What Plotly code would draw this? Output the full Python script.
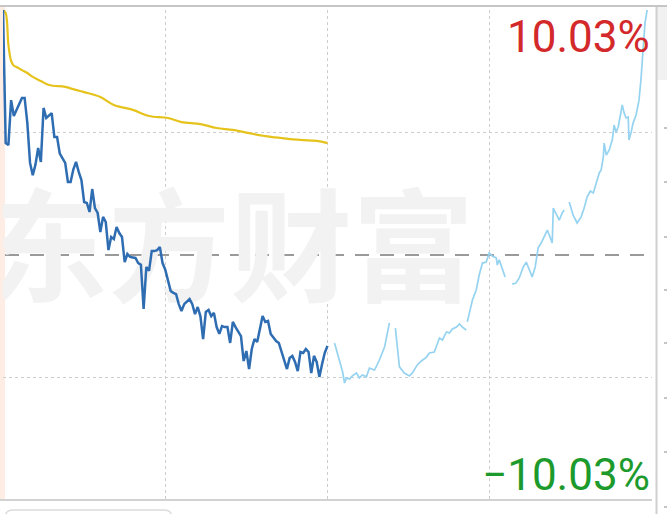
import plotly.graph_objects as go

# ---- data (minutes since 9:30 open, % change vs previous close) ----
price_min = list(range(0, 121))
price_pct = [10.03, 4.58, 4.50, 6.34, 5.69, 5.95, 6.20, 6.43, 6.43, 5.40,
             3.77, 3.27, 3.70, 4.38, 3.81, 6.02, 5.61, 5.70, 5.81, 4.83,
             4.83, 4.15, 3.95, 3.77, 2.99, 2.99, 3.50, 3.81, 3.40, 3.07,
             2.17, 2.13, 1.76, 2.70, 1.92, 1.72, 0.94, 1.56, 1.35, 0.20,
             0.74, 0.65, 1.15, 0.90, 0.74, -0.29, 0.04, -0.08, -0.10, -0.12,
             -0.33, -0.40, -2.21, -0.49, -0.65, 0.16, 0.16, 0.20, 0.33, -0.33,
             -0.60, -0.98, -1.47, -1.55, -1.60, -2.01, -2.29, -2.01, -1.90, -1.80,
             -2.01, -2.42, -2.13, -2.50, -3.44, -2.33, -2.25, -2.50, -2.37, -2.95,
             -3.23, -2.91, -2.95, -2.95, -3.60, -2.74, -2.95, -3.15, -3.32, -4.34,
             -3.93, -4.67, -3.85, -3.44, -3.56, -3.03, -2.50, -2.74, -2.70, -3.23,
             -3.40, -3.52, -3.60, -3.93, -4.34, -4.67, -4.22, -4.13, -4.38, -4.75,
             -3.97, -4.01, -3.85, -3.97, -4.83, -4.13, -4.38, -4.99, -4.46, -4.00,
             -3.72]

avg_min = [0, 1, 2, 3, 4, 5, 7, 9, 11, 14, 17, 23, 26, 30, 36, 41, 48, 54,
           61, 66, 73, 79, 85, 91, 97, 103, 110, 116, 120]
avg_pct = [10.03, 9.90, 8.60, 7.95, 7.75, 7.70, 7.57, 7.45, 7.29, 7.12, 6.96,
           6.88, 6.79, 6.67, 6.47, 6.14, 5.94, 5.69, 5.61, 5.44, 5.36, 5.20,
           5.12, 4.99, 4.87, 4.79, 4.71, 4.67, 4.58]

ref_min = [122.6, 124.4, 125.6, 126.3, 127.0, 128.1, 129.2, 130.7, 131.8, 132.9,
           134.4, 135.5, 137.4, 139.2, 141.1, 142.9, None,
           145.1, 146.6, 148.4, 150.3, 151.4, 153.2, 154.7, 156.6, 157.7, 159.5,
           161.4, 162.5, 164.0, 165.1, 166.2, 167.7, 168.8, 169.9, 171.3, None,
           171.7, 172.5, 173.6, 175.0, 176.1, 177.3, 178.7, 179.8, 180.9, 182.4,
           182.8, 183.5, 184.3, 185.7, None,
           188.3, 189.7, 190.9, 192.4, 193.5, 194.6, 195.7, 196.8, 197.9, 199.0,
           200.1, 201.3, 202.0, 203.1, 203.5, 204.6, 205.7, 206.8, 207.5, None,
           209.4, 210.8, 212.3, 213.8, 214.9, 216.0, 217.2, 218.3, 219.4, 220.5,
           221.2, 222.0, 222.3, 223.1, 224.2, 225.3, 226.0, 226.7, 227.5, 229.0,
           229.7, 230.4, 231.2, 231.5, 232.3, 233.0, 234.1, 235.2, 235.9, 236.7,
           237.4, 238.2, 239.0]
ref_pct = [-3.60, -4.30, -4.79, -5.24, -5.03, -5.08, -4.95, -4.83, -5.03, -4.91,
           -4.99, -4.63, -4.71, -4.30, -3.77, -2.78, None,
           -2.99, -4.58, -4.83, -4.95, -4.83, -4.50, -4.34, -4.18, -4.01, -3.97,
           -3.40, -3.48, -3.15, -3.19, -3.03, -2.95, -2.82, -2.95, -3.07, None,
           -2.74, -2.33, -1.84, -1.43, -0.82, -0.33, -0.29, 0.08, -0.04, -0.12,
           -0.41, -0.20, -0.49, -0.90, None,
           -1.19, -1.15, -0.94, -0.49, -0.29, -0.61, -0.90, -0.49, 0.29, 0.49,
           0.74, 1.02, 0.82, 0.49, 1.92, 1.64, 1.43, 1.72, 1.84, None,
           2.17, 1.64, 1.31, 1.56, 1.92, 2.37, 2.62, 2.54, 2.95, 3.36,
           3.48, 4.01, 4.58, 4.09, 4.30, 4.71, 5.32, 5.03, 5.24, 6.14,
           5.81, 5.61, 5.65, 4.71, 5.03, 5.40, 5.73, 6.34, 7.16, 8.39,
           9.49, 10.03, 10.40]

limit_pct = 10.03
grid_min = [60, 120, 180]
grid_pct = [-5, 5]

# ---- figure ----
W, H = 667, 514
L, R, T, B = 3, 15, 10, 14
pw, ph = W - L - R, H - T - B


def px(xp):
    return (xp - L) / pw


def py(yp):
    return (H - B - yp) / ph


fig = go.Figure()

# watermark (drawn first, so lines are on top)
fig.add_trace(go.Scatter(
    x=[84], y=[-0.25], mode="text", text=["东方财富"],
    textfont=dict(family="Noto Sans CJK SC", size=122, color="#f2f2f2", weight="bold"),
    textposition="middle center", hoverinfo="skip", showlegend=False,
))

fig.add_trace(go.Scatter(x=ref_min, y=ref_pct, mode="lines",
                         line=dict(color="#95d3f0", width=1.7),
                         connectgaps=False, showlegend=False))
fig.add_trace(go.Scatter(x=avg_min, y=avg_pct, mode="lines",
                         line=dict(color="#e6c31c", width=2.2, shape="spline"),
                         showlegend=False))
fig.add_trace(go.Scatter(x=price_min, y=price_pct, mode="lines",
                         line=dict(color="#2f6db2", width=2.5),
                         showlegend=False))

shapes = []
# left tinted strip
shapes.append(dict(type="rect", xref="paper", yref="paper", x0=px(0), x1=px(5),
                   y0=py(500), y1=py(6), fillcolor="rgba(250,215,195,0.45)",
                   line=dict(width=0), layer="below"))
# zero dashed line
shapes.append(dict(type="line", xref="paper", yref="y", x0=px(5), x1=px(652),
                   y0=0, y1=0, line=dict(color="#9a9a9a", width=2, dash="14px,11px"),
                   layer="below"))
# top border
shapes.append(dict(type="line", xref="paper", yref="paper", x0=px(0), x1=px(667),
                   y0=py(6), y1=py(6), line=dict(color="#c6c6c6", width=2)))
# bottom border
shapes.append(dict(type="line", xref="paper", yref="paper", x0=px(0), x1=px(652),
                   y0=py(500), y1=py(500), line=dict(color="#d2d2d2", width=2)))
# right panel separator and box
shapes.append(dict(type="rect", xref="paper", yref="paper", x0=px(657), x1=px(668),
                   y0=py(80), y1=py(7), fillcolor="#f1f1f1", line=dict(width=0)))
shapes.append(dict(type="line", xref="paper", yref="paper", x0=px(656.5), x1=px(656.5),
                   y0=py(514), y1=py(7), line=dict(color="#cfcfcf", width=2)))
for yy in [128, 182, 237, 290, 343, 398, 452, 507]:
    shapes.append(dict(type="line", xref="paper", yref="paper", x0=px(664), x1=px(667),
                       y0=py(yy), y1=py(yy), line=dict(color="#c4c4c4", width=2)))
# bottom rounded box outline
x0b, x1b, yb, rr = px(5), px(172), py(510), 8
shapes.append(dict(type="path", xref="paper", yref="paper",
                   path=(f"M {x0b} {py(520)} L {x0b} {py(510 + rr)} "
                         f"Q {x0b} {yb} {px(5 + rr)} {yb} L {px(172 - rr)} {yb} "
                         f"Q {x1b} {yb} {x1b} {py(510 + rr)} L {x1b} {py(520)}"),
                   line=dict(color="#dcdcdc", width=1.5)))

fig.update_layout(
    width=W, height=H,
    margin=dict(l=L, r=R, t=T, b=B),
    paper_bgcolor="white", plot_bgcolor="white",
    shapes=shapes,
    xaxis=dict(range=[0, 240], tickvals=grid_min, showticklabels=False,
               showgrid=True, gridcolor="#cdcdcd", griddash="dot", gridwidth=1,
               zeroline=False, showline=False, ticks="", fixedrange=True),
    yaxis=dict(range=[-limit_pct, limit_pct], tickvals=grid_pct, showticklabels=False,
               showgrid=True, gridcolor="#cdcdcd", griddash="dot", gridwidth=1,
               zeroline=False, showline=False, ticks="", fixedrange=True),
    annotations=[
        dict(xref="paper", yref="paper", x=px(652), y=py(37), xanchor="right",
             yanchor="middle", text=f"{limit_pct:.2f}%", showarrow=False,
             font=dict(family="Roboto", size=44, color="#d3292b")),
        dict(xref="paper", yref="paper", x=px(652), y=py(475), xanchor="right",
             yanchor="middle", text=f"\u2212{limit_pct:.2f}%", showarrow=False,
             font=dict(family="Roboto", size=44, color="#1d9a2c")),
    ],
)

fig.write_html(
    "out.html",
    config={"displayModeBar": False},
    post_script="document.body.style.margin='0';document.body.style.overflow='hidden';",
)
